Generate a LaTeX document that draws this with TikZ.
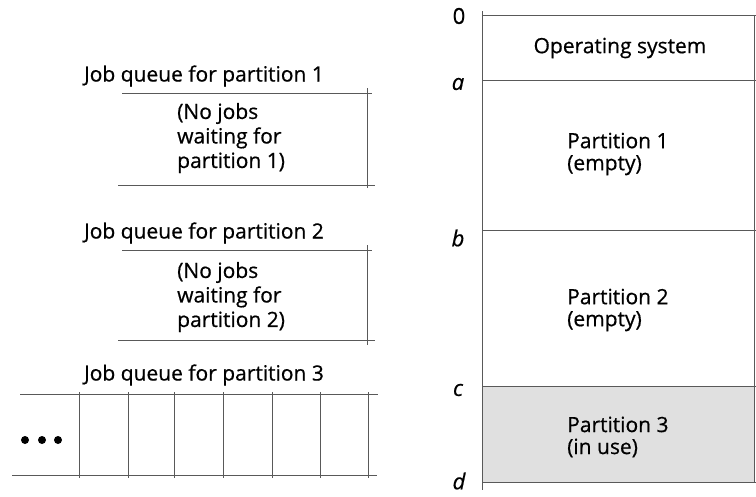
\documentclass[tikz,border=0pt]{standalone}
\usepackage{fontspec}
\setmainfont[FakeBold=0.6]{Open Sans}
\begin{document}
\begin{tikzpicture}[x=1pt,y=-1pt,
  ln/.style={draw=black!65, line width=1pt},
  lbl/.style={font=\fontsize{21}{24.5}\selectfont, inner sep=0pt, text=black},
  plbl/.style={font=\fontsize{21}{22}\selectfont, inner sep=0pt, text=black, align=left, anchor=west},
  addr/.style={font=\fontsize{22}{22}\selectfont\itshape, inner sep=0pt, text=black},
  dot/.style={circle, fill=black, inner sep=0pt, minimum size=8pt}]
\useasboundingbox (0,0) rectangle (756,496);
% ---------- memory ----------
\fill[black!12] (482,386) rectangle (754,482);
\coordinate (m0l) at (482,15);  \coordinate (m0r) at (756,15);
\coordinate (mal) at (482,80);  \coordinate (mar) at (756,80);
\coordinate (mbl) at (482,230); \coordinate (mbr) at (756,230);
\coordinate (mcl) at (482,386); \coordinate (mcr) at (756,386);
\coordinate (mdl) at (482,482); \coordinate (mdr) at (756,482);
\coordinate (mtop) at (482,11); \coordinate (mbot) at (482,490);
\coordinate (rtop) at (754,15); \coordinate (rbot) at (754,482);
\draw[ln] (mtop) -- (mbot);
\draw[ln] (rtop) -- (rbot);
\draw[ln] (m0l) -- (m0r);
\draw[ln] (mal) -- (mar);
\draw[ln] (mbl) -- (mbr);
\draw[ln] (mcl) -- (mcr);
\draw[ln] (mdl) -- (mdr);
\node[addr] (l0) at (459,16) {\upshape 0};
\node[addr] (la) at (458,84) {a};
\node[addr] (lb) at (458,238) {b};
\node[addr] (lc) at (458,390) {c};
\node[addr] (ld) at (459,481) {d};
\node[lbl] (os) at (620,48) {Operating system};
\node[plbl] (p1) at (567,154) {Partition 1\\(empty)};
\node[plbl] (p2) at (567,310) {Partition 2\\(empty)};
\node[plbl] (p3) at (567,437) {Partition 3\\(in use)};
% ---------- queue 1 ----------
\node[lbl] (q1) at (204,76) {Job queue for partition 1};
\coordinate (q1tl) at (122,93);  \coordinate (q1tr) at (372,93);
\coordinate (q1bl) at (118,185); \coordinate (q1br) at (375,185);
\coordinate (q1vt) at (367,88);  \coordinate (q1vb) at (367,188);
\draw[ln] (q1tl) -- (q1tr);
\draw[ln] (q1bl) -- (q1br);
\draw[ln] (q1vt) -- (q1vb);
\node[lbl, align=left, anchor=west] (w1) at (177,138) {(No jobs\\waiting for\\partition 1)};
% ---------- queue 2 ----------
\node[lbl] (q2) at (204,233) {Job queue for partition 2};
\coordinate (q2tl) at (122,250);  \coordinate (q2tr) at (372,250);
\coordinate (q2bl) at (118,340); \coordinate (q2br) at (375,340);
\coordinate (q2vt) at (367,245);  \coordinate (q2vb) at (367,345);
\draw[ln] (q2tl) -- (q2tr);
\draw[ln] (q2bl) -- (q2br);
\draw[ln] (q2vt) -- (q2vb);
\node[lbl, align=left, anchor=west] (w2) at (177,297) {(No jobs\\waiting for\\partition 2)};
% ---------- queue 3 ----------
\node[lbl] (q3) at (204,375) {Job queue for partition 3};
\coordinate (q3tl) at (20,394);  \coordinate (q3tr) at (378,394);
\coordinate (q3bl) at (12,475); \coordinate (q3br) at (377,475);
\draw[ln] (q3tl) -- (q3tr);
\draw[ln] (q3bl) -- (q3br);
\foreach \x [count=\i] in {79,128,174,223,272,320,368} {
  \coordinate (v\i t) at (\x,392); \coordinate (v\i b) at (\x,478);
  \draw[ln] (v\i t) -- (v\i b);
}
\node[dot] (d1) at (25,440) {};
\node[dot] (d2) at (42,440) {};
\node[dot] (d3) at (58,440) {};
\end{tikzpicture}
\end{document}
